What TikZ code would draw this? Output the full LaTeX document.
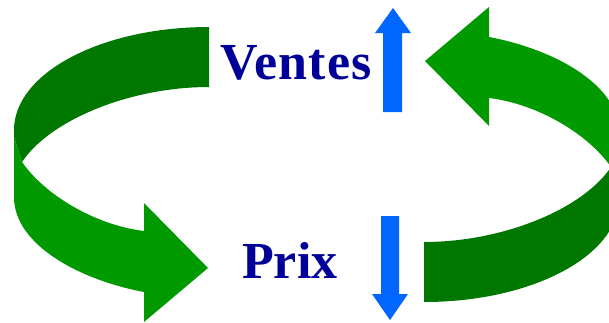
\documentclass[tikz,border=0pt]{standalone}
\usepackage{fontspec}
\setmainfont{Liberation Serif}
\definecolor{darkgr}{HTML}{007800}
\definecolor{lightgr}{HTML}{009900}
\definecolor{bluear}{HTML}{0066FF}
\definecolor{textblue}{HTML}{000099}
\tikzset{
  lbl/.style={inner sep=0pt, anchor=base west, text=textblue, font=\fontsize{52}{60}\selectfont\bfseries},
  backband/.style={fill=darkgr, draw=none},
  frontband/.style={fill=lightgr, draw=none},
  bluefill/.style={fill=bluear, draw=none}
}
\begin{document}
\begin{tikzpicture}[x=1pt,y=-1pt]
\useasboundingbox (0,0) rectangle (609,322);
\begin{scope}
\clip (0,0) rectangle (609,322);
% left curved arrow
\path[backband] (209,27) .. controls (101.3,27) and (14,73.1) .. (14,130)
  -- (14,137) -- (22,162) .. controls (50,120) and (130,87) .. (209,87) -- cycle;
\path[frontband] (14,137) -- (14,197) .. controls (14,245) and (80,280) .. (144,292)
  -- (144,322) -- (208,268) -- (144,203) -- (144,231)
  .. controls (95,225) and (45,195) .. (22,162) -- cycle;
% right curved arrow (same shape turned half a turn)
\begin{scope}[rotate around={180:(316.5,164.5)}]
\path[backband] (209,27) .. controls (101.3,27) and (14,73.1) .. (14,130)
  -- (14,137) -- (22,162) .. controls (50,120) and (130,87) .. (209,87) -- cycle;
\path[frontband] (14,137) -- (14,197) .. controls (14,245) and (80,280) .. (144,292)
  -- (144,322) -- (208,268) -- (144,203) -- (144,231)
  .. controls (95,225) and (45,195) .. (22,162) -- cycle;
\end{scope}
\end{scope}
% blue arrows
\path[bluefill] (383,112) -- (383,33) -- (375,33) -- (393,8) -- (411,33) -- (402,33) -- (402,112) -- cycle;
\path[bluefill] (381,216) -- (381,294) -- (372,294) -- (390,320) -- (408,294) -- (399,294) -- (399,216) -- cycle;
% labels
\node[lbl] (ventes) at (220,79) {\addfontfeature{LetterSpace=2.4}Ventes};
\node[lbl] (prix) at (242,278) {Prix};
\end{tikzpicture}
\end{document}
